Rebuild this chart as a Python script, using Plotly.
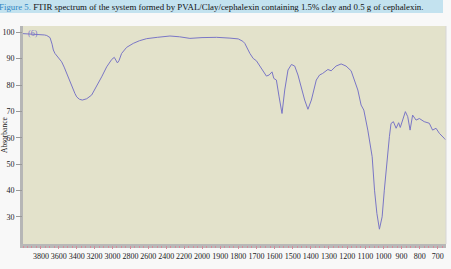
import plotly.graph_objects as go

# ---- data ----
wavenumber = [4000, 3900, 3800, 3760, 3735, 3698, 3675, 3661, 3643, 3606, 3568, 3540, 3512,
              3456, 3420, 3400, 3370, 3337, 3300, 3288, 3233, 3177, 3121, 3065, 3009, 2980,
              2965, 2945, 2928, 2898, 2842, 2768, 2700, 2618, 2500, 2358, 2250, 2135, 2000,
              1919, 1846, 1800, 1775, 1764, 1736, 1718, 1700, 1672, 1645, 1630, 1614, 1604,
              1590, 1575, 1559, 1544, 1526, 1507, 1489, 1471, 1452, 1434, 1416, 1397, 1370,
              1352, 1335, 1306, 1288, 1261, 1233, 1206, 1178, 1159, 1141, 1123, 1108, 1086,
              1068, 1062, 1049, 1036, 1022, 1007, 995, 982, 967, 958, 945, 930, 916, 907,
              890, 879, 866, 853, 839, 820, 802, 775, 747, 729, 710, 692, 665, 657]
absorbance = [99.5, 99.4, 99.3, 99.0, 98.8, 98.0, 95.5, 93.3, 92.0, 90.5, 88.8, 86.8, 84.4,
              79.4, 76.8, 75.5, 74.6, 74.3, 74.6, 74.8, 76.2, 79.4, 83.1, 86.9, 89.7, 90.5,
              89.8, 88.4, 89.2, 92.0, 94.3, 95.8, 96.8, 97.6, 98.1, 98.6, 98.3, 97.7, 98.0,
              98.1, 97.8, 97.5, 96.6, 95.8, 92.0, 90.1, 89.2, 86.3, 83.4, 83.8, 85.0, 82.5,
              81.9, 75.5, 69.2, 78.1, 85.7, 87.8, 87.2, 83.8, 78.7, 74.3, 70.8, 74.3, 81.9,
              83.8, 84.4, 85.9, 85.4, 87.2, 88.0, 87.2, 85.4, 81.9, 78.1, 72.4, 70.5, 62.9,
              55.3, 52.8, 40.1, 31.3, 25.3, 30.0, 40.1, 50.3, 60.4, 65.4, 66.1, 63.6, 65.7, 63.9,
              68.0, 69.9, 68.0, 62.9, 68.6, 66.7, 67.3, 66.1, 65.5, 62.9, 63.6, 61.7, 59.8, 59.2]

left_ticks = [3800, 3600, 3400, 3200, 3000, 2800, 2600, 2400, 2200, 2000]
right_ticks = [1900, 1800, 1700, 1600, 1500, 1400, 1300, 1200, 1100, 1000, 900, 800, 700]
y_ticks = [30, 40, 50, 60, 70, 80, 90, 100]

title_lead = "Figure 5."
title_rest = " FTIR spectrum of the system formed by PVAL/Clay/cephalexin containing 1.5% clay and 0.5 g of cephalexin."
sample_label = "(6)"

# ---- styling ----
W, H = 451, 269
L, R, T, B = 23, 5, 26, 24
pw, ph = W - L - R, H - T - B
line_col = "#7a76c6"
plot_bg = "#e3e2cb"
paper_bg = "#f8f8f8"
pink = "#d88a9a"
serif = "Liberation Serif"
split = 2000
split_px = 202


def px2x(px):
    return (px - L) / pw


def py2y(py):
    return (H - B - py) / ph


d = px2x(split_px)

lx = [w for w in wavenumber if w >= split]
ly = [a for w, a in zip(wavenumber, absorbance) if w >= split]
rx = [w for w in wavenumber if w <= split]
ry = [a for w, a in zip(wavenumber, absorbance) if w <= split]

fig = go.Figure()
fig.add_trace(go.Scatter(x=lx, y=ly, mode="lines", line=dict(color=line_col, width=1),
                         xaxis="x", yaxis="y", showlegend=False, hoverinfo="skip"))
fig.add_trace(go.Scatter(x=rx, y=ry, mode="lines", line=dict(color=line_col, width=1),
                         xaxis="x2", yaxis="y", showlegend=False, hoverinfo="skip"))

xcommon = dict(showgrid=False, zeroline=False, showline=False, ticks="outside", ticklen=3,
               tickcolor=pink, tickwidth=1, tickangle=0, automargin=False,
               tickfont=dict(family=serif, size=8, color="#222"))

fig.update_layout(
    width=W, height=H,
    margin=dict(l=L, r=R, t=T, b=B, autoexpand=False),
    paper_bgcolor=paper_bg, plot_bgcolor=plot_bg,
    xaxis=dict(domain=[0, d], range=[4000, split], tickvals=left_ticks,
               ticktext=[str(v) for v in left_ticks], anchor="y",
               minor=dict(dtick=50, ticklen=2, tickcolor=pink, ticks="outside"), **xcommon),
    xaxis2=dict(domain=[d, 1], range=[split, 655], tickvals=right_ticks,
                ticktext=[str(v) for v in right_ticks], anchor="y",
                minor=dict(dtick=25, ticklen=2, tickcolor=pink, ticks="outside"), **xcommon),
    yaxis=dict(range=[19.3, 102.4], tickvals=y_ticks, showgrid=False, zeroline=False,
               showline=False, ticks="outside", ticklen=6, tickcolor="#999", automargin=False,
               tickfont=dict(family=serif, size=8, color="#222")),
    shapes=[
        # title band
        dict(type="rect", xref="paper", yref="paper", x0=px2x(0), x1=px2x(443),
             y0=py2y(13), y1=py2y(0), fillcolor="#c3e2ef", line=dict(width=0), layer="below"),
        # left border
        dict(type="rect", xref="paper", yref="paper", x0=px2x(20), x1=px2x(23),
             y0=py2y(248), y1=py2y(26), fillcolor="#b6b6b6", line=dict(width=0), layer="below"),
        # bottom border
        dict(type="rect", xref="paper", yref="paper", x0=px2x(20), x1=px2x(446),
             y0=py2y(248), y1=py2y(244), fillcolor="#b8b8b8", line=dict(width=0), layer="below"),
        # right edge
        dict(type="line", xref="paper", yref="paper", x0=1, x1=1,
             y0=py2y(244), y1=1, line=dict(color="#d6d6d6", width=1)),
    ],
    annotations=[
        dict(xref="paper", yref="paper", x=px2x(-3), y=py2y(7), xanchor="left", yanchor="middle",
             showarrow=False,
             text=f"<span style='color:#2f86c4'>{title_lead}</span>{title_rest}",
             font=dict(family=serif, size=8.85, color="#111")),
        dict(xref="paper", yref="paper", x=px2x(4.5), y=0.5, textangle=-90, showarrow=False,
             text="Absorbance", font=dict(family=serif, size=7.5, color="#222"),
             xanchor="center", yanchor="middle"),
        dict(xref="paper", yref="paper", x=px2x(26), y=py2y(33), xanchor="left",
             yanchor="middle", showarrow=False, text=sample_label,
             font=dict(family=serif, size=8, color=line_col)),
    ],
)

fig.write_html("out.html")
